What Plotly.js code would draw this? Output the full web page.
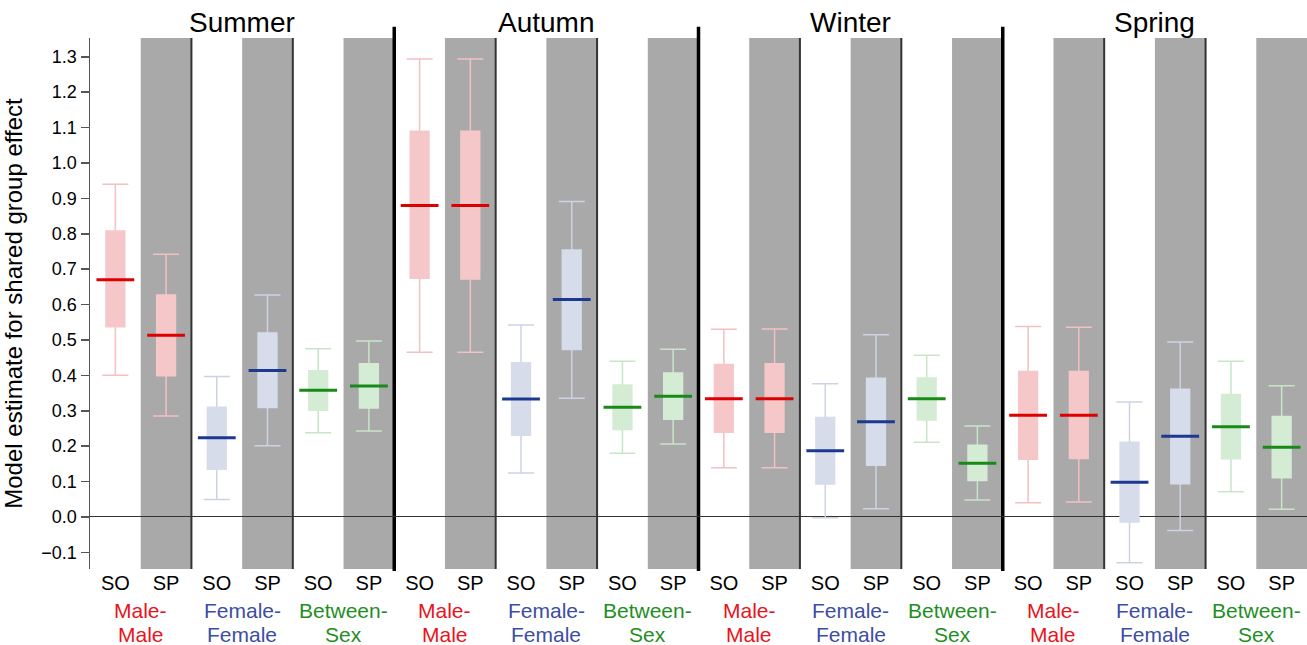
<!DOCTYPE html>
<html><head><meta charset="utf-8">
<script src="https://cdn.plot.ly/plotly-3.0.1.min.js"></script>
<style>html,body{margin:0;padding:0;background:#fff}#chart{width:1307px;height:645px}</style>
</head><body><div id="chart"></div>
<script>
// Categories
const seasons = ['Summer', 'Autumn', 'Winter', 'Spring'];
const groupLine1 = ['Male-', 'Female-', 'Between-'];
const groupLine2 = ['Male', 'Female', 'Sex'];
const types = ['SO', 'SP'];
const yTicks = [-0.1, 0, 0.1, 0.2, 0.3, 0.4, 0.5, 0.6, 0.7, 0.8, 0.9, 1.0, 1.1, 1.2, 1.3];

// Values, ordered season -> group (Male-Male, Female-Female, Between-Sex) -> type (SO, SP)
const whiskerLow = [
  0.400, 0.285, 0.049, 0.201, 0.238, 0.243,
  0.465, 0.465, 0.124, 0.335, 0.180, 0.206,
  0.139, 0.139, -0.002, 0.023, 0.211, 0.048,
  0.040, 0.042, -0.129, -0.038, 0.071, 0.022
];
const boxLow = [
  0.535, 0.397, 0.133, 0.307, 0.299, 0.306,
  0.672, 0.670, 0.229, 0.471, 0.245, 0.274,
  0.237, 0.237, 0.091, 0.144, 0.272, 0.101,
  0.161, 0.163, -0.016, 0.092, 0.162, 0.109
];
const medians = [
  0.670, 0.513, 0.224, 0.414, 0.358, 0.370,
  0.880, 0.880, 0.333, 0.614, 0.310, 0.341,
  0.334, 0.334, 0.187, 0.269, 0.334, 0.152,
  0.287, 0.287, 0.098, 0.228, 0.255, 0.197
];
const boxHigh = [
  0.810, 0.629, 0.312, 0.522, 0.415, 0.435,
  1.092, 1.092, 0.438, 0.756, 0.375, 0.409,
  0.433, 0.435, 0.283, 0.394, 0.395, 0.205,
  0.413, 0.413, 0.213, 0.363, 0.348, 0.286
];
const whiskerHigh = [
  0.940, 0.742, 0.397, 0.627, 0.475, 0.497,
  1.294, 1.294, 0.542, 0.891, 0.440, 0.474,
  0.530, 0.531, 0.376, 0.515, 0.457, 0.257,
  0.538, 0.536, 0.325, 0.494, 0.440, 0.371
];

// Styles
const FONT = 'Liberation Sans, Arial, Helvetica, sans-serif';
const fillCols = ['#f5c7c9', '#d6dcea', '#d4ecd4'];
const whiskerCols = ['#f3c0c3', '#ccd3e5', '#c7e5c7'];
const medianCols = ['#dd0000', '#1c3990', '#178a17'];
const labelCols = ['#e8141c', '#3b4ea3', '#1f8f1f'];

const nG = groupLine1.length, nT = types.length;
const perSeason = nG * nT;
const xs = [], tickText = [];
seasons.forEach((s, si) => groupLine1.forEach((g, gi) => types.forEach((t, ti) => {
  xs.push(si * perSeason + gi * nT + ti);
  tickText.push(t);
})));

const traces = [];
for (let g = 0; g < nG; g++) {
  const idx = xs.map((x, i) => i).filter(i => Math.floor(i / nT) % nG === g);
  const X = idx.map(i => xs[i]);
  // whiskers (error bars on invisible bars)
  traces.push({
    type: 'bar', x: X, y: idx.map(i => medians[i]), width: 0.4,
    marker: {color: 'rgba(0,0,0,0)', line: {width: 0}},
    error_y: {type: 'data', symmetric: false,
      array: idx.map(i => whiskerHigh[i] - medians[i]),
      arrayminus: idx.map(i => medians[i] - whiskerLow[i]),
      color: whiskerCols[g], thickness: 1.5, width: 13},
    hoverinfo: 'skip', showlegend: false
  });
  // boxes
  traces.push({
    type: 'box', x: X,
    q1: idx.map(i => boxLow[i]), median: idx.map(i => medians[i]), q3: idx.map(i => boxHigh[i]),
    lowerfence: idx.map(i => boxLow[i]), upperfence: idx.map(i => boxHigh[i]),
    width: 0.4, fillcolor: fillCols[g], line: {color: fillCols[g], width: 0},
    hoverinfo: 'skip', showlegend: false
  });
}
for (let g = 0; g < nG; g++) {
  const idx = xs.map((x, i) => i).filter(i => Math.floor(i / nT) % nG === g);
  traces.push({
    type: 'scatter', mode: 'markers', x: idx.map(i => xs[i]), y: idx.map(i => medians[i]),
    marker: {symbol: 'line-ew', size: 27, line: {color: medianCols[g], width: 3}},
    hoverinfo: 'skip', showlegend: false, cliponaxis: false
  });
}

const shapes = [];
xs.forEach((x, i) => {
  if (i % nT === 1) {
    shapes.push({type: 'rect', xref: 'x', yref: 'paper', x0: x - 0.5, x1: x + 0.5, y0: 0, y1: 1,
      fillcolor: '#a9a9a9', line: {width: 0}, layer: 'below'});
    if (i < xs.length - 1) {
      const thick = (i + 1) % perSeason === 0;
      shapes.push({type: 'line', xref: 'x', yref: 'paper', x0: x + 0.5, x1: x + 0.5,
        y0: thick ? -0.004 : 0, y1: thick ? 1.021 : 1,
        line: {color: thick ? '#000' : '#333', width: thick ? 3.5 : 2}, layer: 'below'});
    }
  }
});

const annotations = [];
seasons.forEach((s, si) => {
  annotations.push({text: s, xref: 'x', yref: 'paper', x: si * perSeason + (perSeason - 1) / 2, y: 1,
    yanchor: 'middle', yshift: 16, showarrow: false, font: {family: FONT, size: 28, color: '#000'}});
  groupLine1.forEach((g, gi) => {
    const cx = si * perSeason + gi * nT + (nT - 1) / 2;
    annotations.push({text: g, xref: 'x', yref: 'paper', x: cx, y: 0, yanchor: 'middle', yshift: -41,
      showarrow: false, font: {family: FONT, size: 21, color: labelCols[gi]}});
    annotations.push({text: groupLine2[gi], xref: 'x', yref: 'paper', x: cx, y: 0, yanchor: 'middle', yshift: -65,
      showarrow: false, font: {family: FONT, size: 21, color: labelCols[gi]}});
  });
});

const layout = {
  width: 1307, height: 645,
  margin: {l: 90, r: 0, t: 38, b: 76, pad: 0},
  paper_bgcolor: '#fff', plot_bgcolor: '#fff',
  showlegend: false, hovermode: false,
  barmode: 'overlay', boxmode: 'overlay',
  font: {family: FONT, color: '#000'},
  xaxis: {range: [-0.5, xs.length - 0.5], tickvals: xs, ticktext: tickText, ticks: '',
    showgrid: false, zeroline: false, showline: false, fixedrange: true,
    tickfont: {family: FONT, size: 20, color: '#000'}},
  yaxis: {range: [-0.147, 1.353], tickvals: yTicks, tickformat: '.1f', ticks: 'outside',
    ticklen: 8, tickwidth: 1.5, tickcolor: '#555', showline: true, linecolor: '#555', linewidth: 1.5,
    showgrid: false, zeroline: true, zerolinecolor: '#333', zerolinewidth: 1, fixedrange: true,
    tickfont: {family: FONT, size: 18, color: '#000'},
    title: {text: 'Model estimate for shared group effect', font: {family: FONT, size: 24, color: '#000'}, standoff: 12}},
  shapes: shapes, annotations: annotations
};
Plotly.newPlot('chart', traces, layout, {displayModeBar: false, staticPlot: true});
</script></body></html>
